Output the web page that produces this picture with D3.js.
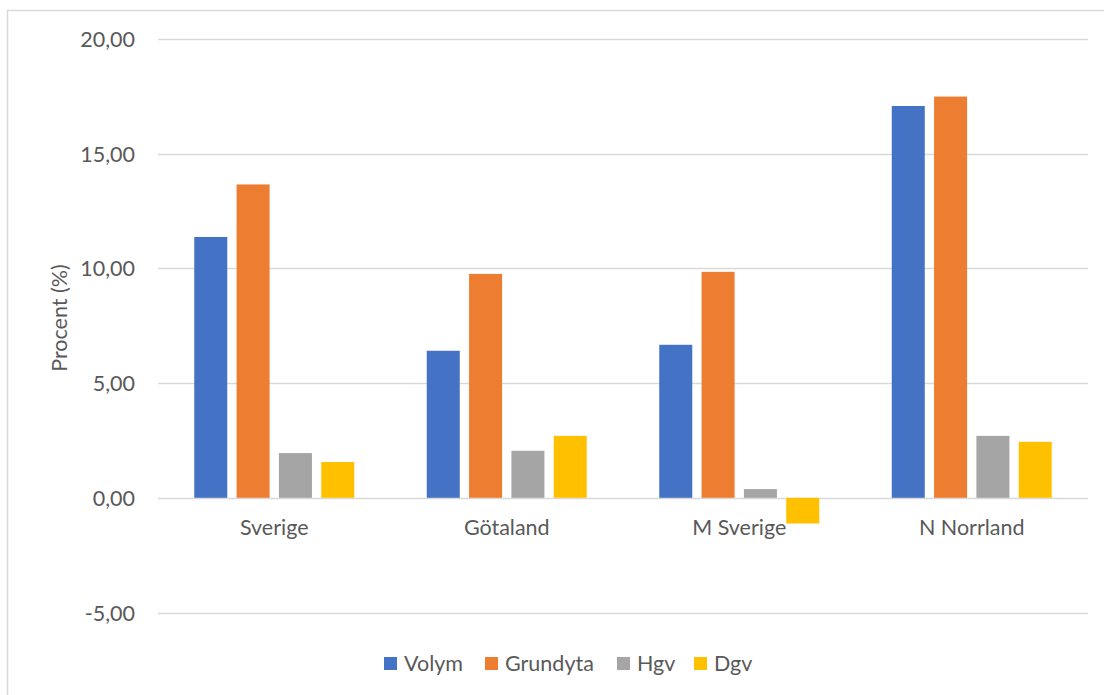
<!DOCTYPE html>
<html>
<head>
<meta charset="utf-8">
<script src="https://cdn.jsdelivr.net/npm/d3@7"></script>
<style>
  body { margin: 0; background: #fff; }
  text { font-family: Lato, "Open Sans", sans-serif; fill: #595959; }
</style>
</head>
<body>
<div id="chart"></div>
<script>
var categories = ["Sverige", "Götaland", "M Sverige", "N Norrland"];
var seriesNames = ["Volym", "Grundyta", "Hgv", "Dgv"];
var volym    = [11.37, 6.41, 6.67, 17.08];
var grundyta = [13.66, 9.76, 9.85, 17.49];
var hgv      = [1.95, 2.05, 0.38, 2.70];
var dgv      = [1.56, 2.70, -1.12, 2.44];
var yTicks = [-5, 0, 5, 10, 15, 20];
var colors = ["#4472C4", "#ED7D31", "#A5A5A5", "#FFC000"];

var w = 1104, h = 695;
var plotLeft = 158, plotRight = 1088, plotTop = 39, plotBottom = 612.5;
var fs = "21.5px";

var series = [volym, grundyta, hgv, dgv];
var rows = [];
categories.forEach(function(c, i) {
  series.forEach(function(s, j) {
    rows.push({cat: c, name: seriesNames[j], value: s[i]});
  });
});

var svg = d3.select("#chart").append("svg")
  .attr("width", w).attr("height", h);

// chart area border
svg.append("rect")
  .attr("x", 7.5).attr("y", 10.5)
  .attr("width", 1200).attr("height", 800)
  .attr("fill", "none").attr("stroke", "#D9D9D9").attr("stroke-width", 1.5);

var x = d3.scaleBand().domain(categories).range([plotLeft, plotRight]);
var y = d3.scaleLinear().domain([-5, 20]).range([plotBottom, plotTop]);

// inner band for the four bars
var groupW = 160;
var x1 = d3.scaleBand().domain(seriesNames)
  .range([0, groupW]).paddingInner(0.22);

// gridlines
svg.append("g").selectAll("line")
  .data(yTicks)
  .enter().append("line")
  .attr("x1", plotLeft).attr("x2", plotRight)
  .attr("y1", function(d) { return Math.round(y(d)) + 0.5; })
  .attr("y2", function(d) { return Math.round(y(d)) + 0.5; })
  .attr("stroke", "#D9D9D9").attr("stroke-width", 1.5);

// y axis labels (decimal comma, plain hyphen for minus)
var yAxis = d3.axisLeft(y).tickValues(yTicks)
  .tickSize(0).tickPadding(0)
  .tickFormat(function(d) { return d.toFixed(2).replace(".", ","); });
var gy = svg.append("g")
  .attr("transform", "translate(135,0)")
  .call(yAxis);
gy.select(".domain").remove();
gy.selectAll("text")
  .attr("font-size", fs)
  .attr("font-family", "Lato, sans-serif")
  .attr("fill", "#595959")
  .attr("dy", "0.35em");

// bars
svg.append("g").selectAll("rect")
  .data(rows)
  .enter().append("rect")
  .attr("x", function(d) { return x(d.cat) + (x.bandwidth() - groupW) / 2 + x1(d.name); })
  .attr("width", x1.bandwidth())
  .attr("y", function(d) { return y(Math.max(0, d.value)); })
  .attr("height", function(d) { return Math.abs(y(d.value) - y(0)); })
  .attr("fill", function(d) { return colors[seriesNames.indexOf(d.name)]; });

// category labels
var xAxis = d3.axisBottom(x).tickSize(0).tickPadding(0);
var gx = svg.append("g")
  .attr("transform", "translate(0," + y(0) + ")")
  .call(xAxis);
gx.select(".domain").remove();
gx.selectAll("text")
  .attr("font-size", fs)
  .attr("font-family", "Lato, sans-serif")
  .attr("fill", "#595959")
  .attr("dy", "1.75em");

// y axis title
svg.append("text")
  .attr("transform", "translate(67,318) rotate(-90)")
  .attr("text-anchor", "middle")
  .attr("font-size", fs)
  .text("Procent (%)");

// legend
var legendX = [384, 485, 617, 694];
var legend = svg.append("g").selectAll("g")
  .data(seriesNames)
  .enter().append("g")
  .attr("transform", function(d, i) { return "translate(" + legendX[i] + ",657)"; });
legend.append("rect")
  .attr("width", 13).attr("height", 13)
  .attr("fill", function(d, i) { return colors[i]; });
legend.append("text")
  .attr("x", 20).attr("y", 6.5).attr("dy", "0.35em")
  .attr("font-size", fs)
  .text(function(d) { return d; });
</script>
</body>
</html>
